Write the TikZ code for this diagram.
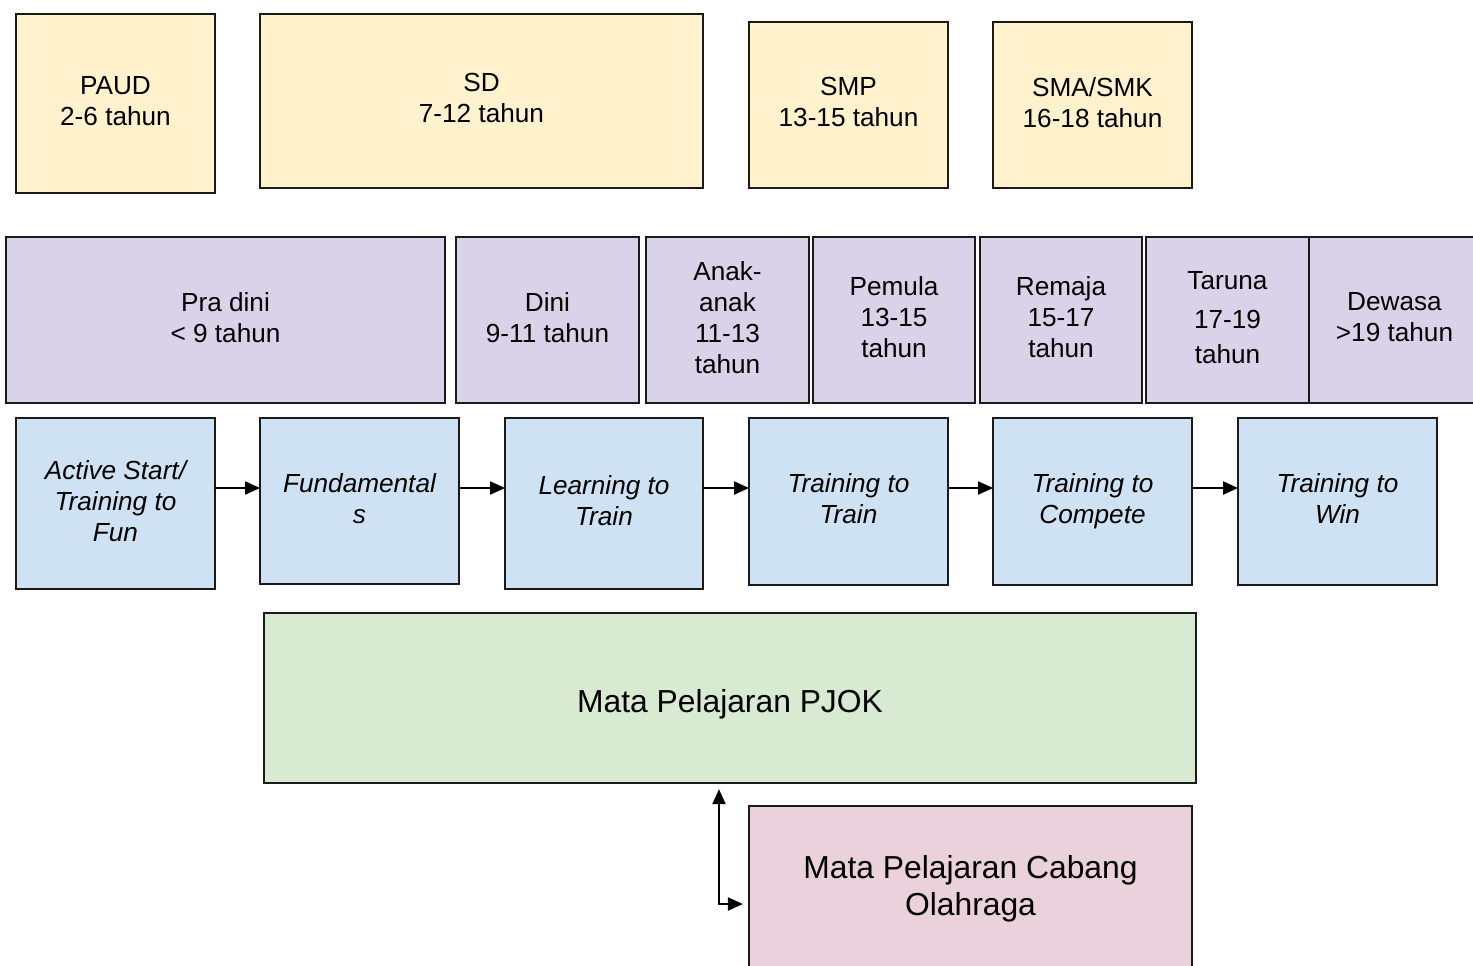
\documentclass[tikz,border=0pt]{standalone}
\usepackage{fontspec}
\setmainfont{Liberation Sans}
\usetikzlibrary{arrows.meta}
\definecolor{cyellow}{HTML}{FFF2CC}
\definecolor{cpurple}{HTML}{D9D2E9}
\definecolor{cblue}{HTML}{CFE2F3}
\definecolor{cgreen}{HTML}{D9EAD3}
\definecolor{cpink}{HTML}{EAD1DC}
\definecolor{cline}{HTML}{1A1A1A}
\newcommand{\wstrut}{\rule[-0.212em]{0pt}{1.33em}}
\tikzset{
  base/.style={draw=cline, line width=0.85pt, inner sep=0pt, outer sep=0pt, align=center,
    font=\fontsize{14.9}{17.6}\selectfont,
    execute at begin node=\wstrut, execute at end node=\wstrut},
  ybox/.style={base, fill=cyellow},
  pbox/.style={base, fill=cpurple},
  bbox/.style={base, fill=cblue, font=\fontsize{14.9}{17.6}\selectfont\itshape},
  gbox/.style={base, fill=cgreen, font=\fontsize{18.1}{21.2}\selectfont},
  kbox/.style={base, fill=cpink, font=\fontsize{18.1}{21.2}\selectfont},
  arr/.style={line width=0.85pt, -{Triangle[length=8.5pt,width=7.5pt]}},
  darr/.style={line width=0.85pt, {Triangle[length=8.5pt,width=7.5pt]}-{Triangle[length=8.5pt,width=7.5pt]}, shorten <=3.5pt, shorten >=3.5pt}
}
\newcommand{\boxnode}[7]{%
  \node[#1, minimum width={(#5-#3)*0.02cm}, minimum height={(#6-#4)*0.02cm}]
    (#2) at ({(#3+#5)/2},{(#4+#6)/2}) {#7};}
\begin{document}
\begin{tikzpicture}[x=0.02cm, y=-0.02cm]
\useasboundingbox (0,0) rectangle (1473,965);
% school levels
\boxnode{ybox}{paud}{16}{14}{215}{193}{PAUD\\2-6 tahun}
\boxnode{ybox}{sd}{260}{14}{703}{188}{SD\\7-12 tahun}
\boxnode{ybox}{smp}{749}{22}{948}{188}{SMP\\13-15 tahun}
\boxnode{ybox}{sma}{993}{22}{1192}{188}{SMA/SMK\\16-18 tahun}
% age groups
\boxnode{pbox}{pra}{6}{237}{445}{403}{Pra dini\\< 9 tahun}
\boxnode{pbox}{dini}{456}{237}{639}{403}{Dini\\9-11 tahun}
\boxnode{pbox}{anak}{646}{237}{809}{403}{Anak-\\anak\\11-13\\tahun}
\boxnode{pbox}{pemula}{813}{237}{975}{403}{Pemula\\13-15\\tahun}
\boxnode{pbox}{remaja}{980}{237}{1142}{403}{Remaja\\15-17\\tahun}
\boxnode{pbox}{taruna}{1146}{237}{1309}{403}{Taruna\\[5pt]17-19\\[2pt]tahun}
\boxnode{pbox}{dewasa}{1309}{237}{1480}{403}{Dewasa\\>19 tahun}
% LTAD stages
\boxnode{bbox}{s1}{16}{418}{215}{589}{Active Start/\\Training to\\Fun}
\boxnode{bbox}{s2}{260}{418}{459}{584}{Fundamental\\s}
\boxnode{bbox}{s3}{505}{418}{703}{589}{Learning to\\Train}
\boxnode{bbox}{s4}{749}{418}{948}{585}{Training to\\Train}
\boxnode{bbox}{s5}{993}{418}{1192}{585}{Training to\\Compete}
\boxnode{bbox}{s6}{1238}{418}{1437}{585}{Training to\\Win}
% subjects
\boxnode{gbox}{pjok}{264}{613}{1196}{783}{Mata Pelajaran PJOK}
\boxnode{kbox}{cabang}{749}{806}{1192}{972}{Mata Pelajaran Cabang\\Olahraga}
% connectors
\coordinate (ay) at (0,488);
\draw[arr] (s1.east |- ay) -- (s2.west |- ay);
\draw[arr] (s2.east |- ay) -- (s3.west |- ay);
\draw[arr] (s3.east |- ay) -- (s4.west |- ay);
\draw[arr] (s4.east |- ay) -- (s5.west |- ay);
\draw[arr] (s5.east |- ay) -- (s6.west |- ay);
\coordinate (vx) at (719,0);
\coordinate (hy) at (0,904);
\draw[darr] (pjok.south -| vx) |- (cabang.west |- hy);
\end{tikzpicture}
\end{document}
